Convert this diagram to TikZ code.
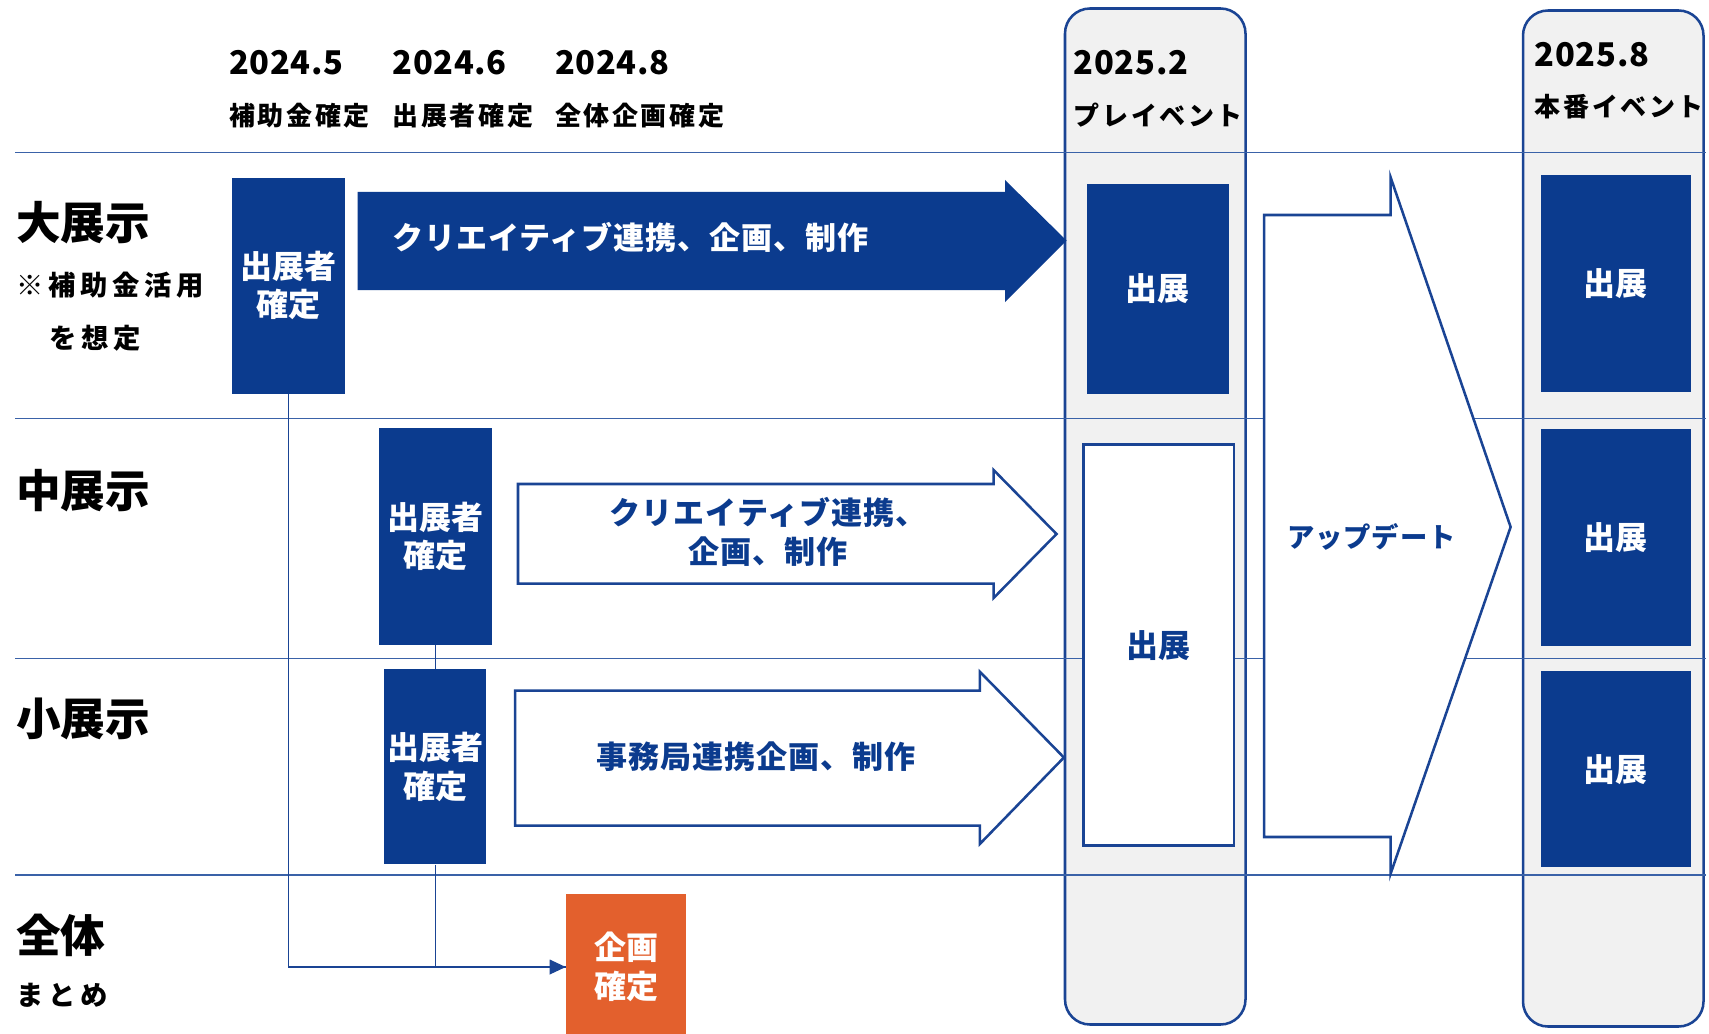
\documentclass[tikz,border=0pt]{standalone}
\usepackage{fontspec}
\setmainfont{Noto Sans CJK JP}
\usetikzlibrary{arrows.meta}
\definecolor{nb}{HTML}{0B3B8E}
\definecolor{ol}{HTML}{1A4494}
\definecolor{ln}{HTML}{3A62A8}
\definecolor{og}{HTML}{E3602D}
\definecolor{gy}{HTML}{F1F1F1}
\newcommand\mhdr{\bfseries\fontsize{19.5}{23}\selectfont\addfontfeatures{LetterSpace=10}}
\newcommand\mdate{\bfseries\fontsize{24.5}{28}\selectfont\addfontfeatures{LetterSpace=2}}
\newcommand\mrow{\bfseries\fontsize{33.5}{38}\selectfont}
\newcommand\mnote{\bfseries\fontsize{20.5}{24}\selectfont\addfontfeatures{LetterSpace=17}}
\newcommand\mboxf{\bfseries\fontsize{24}{29}\selectfont}
\newcommand\marr{\bfseries\fontsize{23.3}{29.5}\selectfont\addfontfeatures{LetterSpace=3}}
\tikzset{
  sz/.style 2 args={minimum width=#1*0.75pt, minimum height=#2*0.75pt},
  fbox/.style={fill=nb, draw=none, text=white, inner sep=0pt, align=center, font=\mboxf},
  obox/.style={fill=white, draw=ol, line width=1.9pt, text=nb, inner sep=0pt, align=center, font=\mboxf},
  lbl/.style={anchor=west, inner sep=0pt, text=black},
  conn/.style={draw=ol, line width=1pt},
  outarrow/.style={draw=ol, line width=1.9pt, fill=white, line join=miter},
  col/.style={draw=ol, fill=gy, line width=1.9pt, rounded corners=18.75pt}}
\begin{document}
\begin{tikzpicture}[x=0.75pt,y=-0.75pt]
\fill[white] (0,0) rectangle (1709,1034);
\useasboundingbox (0,0) rectangle (1709,1034);

% event columns
\draw[col] (1065,8.5) rectangle (1245.5,1024.5);
\draw[col] (1523,10.5) rectangle (1703.5,1026.5);

% row rules
\foreach \yy in {152.5,418.5,658.3,875.2}
  \draw[ln, line width=1.1pt] (15,\yy) -- (1706,\yy);

% header texts
\node[lbl, font=\mdate] (d1) at (229,63) {2024.5};
\node[lbl, font=\mdate] (d2) at (392.4,63) {2024.6};
\node[lbl, font=\mdate] (d3) at (554.8,63) {2024.8};
\node[lbl, font=\mhdr] (h1) at (229,115.5) {補助金確定};
\node[lbl, font=\mhdr] (h2) at (392.4,115.5) {出展者確定};
\node[lbl, font=\mhdr] (h3) at (554.8,115.5) {全体企画確定};
\node[lbl, font=\mdate] (d4) at (1073.6,63) {2025.2};
\node[lbl, font=\mhdr] (h4) at (1073.6,115.5) {プレイベント};
\node[lbl, font=\mdate] (d5) at (1534.6,54.5) {2025.8};
\node[lbl, font=\mhdr] (h5) at (1534.6,106.8) {本番イベント};

% row labels
\node[lbl, font=\mrow] (r1) at (16,223) {大展示};
\node[lbl, font=\mnote] (r1a) at (16,285.6) {※補助金活用};
\node[lbl, font=\mnote] (r1b) at (49,338) {を想定};
\node[lbl, font=\mrow] (r2) at (16,490.5) {中展示};
\node[lbl, font=\mrow] (r3) at (16,719) {小展示};
\node[lbl, font=\mrow] (r4) at (16,935) {全体};
\node[lbl, font=\mnote] (r4a) at (16,995) {まとめ};

% exhibitor boxes
\node[fbox, sz={112.5}{215.8}] (A) at (288.25,285.6) {出展者\\確定};
\node[fbox, sz={112.2}{216.2}] (B) at (435.4,536.4) {出展者\\確定};
\node[fbox, sz={102}{195.3}] (C) at (435.4,766.7) {出展者\\確定};
\node[fbox, fill=og, sz={120}{146}] (D) at (626,967) {企画\\確定};

% connectors
\draw[conn] (B.south) -- (C.north);
\draw[conn] (C.south) |- (D.west);
\draw[conn, -{Triangle[length=12pt,width=11pt]}] (A.south) |- (D.west);

% big filled arrow
\fill[nb] (357.5,191.8) -- (1005,191.8) -- (1005,180) -- (1066.5,240.5) -- (1005,302) -- (1005,290) -- (357.5,290) -- cycle;
\node[anchor=west, inner sep=0pt, text=white, font=\marr] (t1) at (392,237.6) {クリエイティブ連携、企画、制作};

% middle outline arrow
\draw[outarrow] (518,484) -- (993.6,484) -- (993.6,470) -- (1056.5,534) -- (993.6,598) -- (993.6,583.7) -- (518,583.7) -- cycle;
\node[inner sep=0pt, text=nb, font=\marr, align=center] (t2) at (768,532) {クリエイティブ連携、\\企画、制作};

% small outline arrow
\draw[outarrow] (515.2,690.7) -- (979.8,690.7) -- (979.8,671.7) -- (1063.9,757.5) -- (979.8,844) -- (979.8,825.7) -- (515.2,825.7) -- cycle;
\node[inner sep=0pt, text=nb, font=\marr] (t3) at (756.5,756.7) {事務局連携企画、制作};

% pre-event boxes
\node[fbox, sz={141.5}{209.6}] (E) at (1157.75,288.8) {出展};
\node[obox, sz={150.5}{401}] (F) at (1158.75,645.25) {出展};

% update arrow
\draw[outarrow] (1264,215) -- (1390.5,215) -- (1390.5,177) -- (1510.6,527) -- (1390.5,874) -- (1390.5,837) -- (1264,837) -- cycle;
\node[inner sep=0pt, text=nb, font=\bfseries\fontsize{20.5}{24}\selectfont\addfontfeatures{LetterSpace=3}] (t4) at (1371.5,537) {アップデート};

% main event boxes
\node[fbox, sz={149.5}{216.2}] (G) at (1615.75,283.4) {出展};
\node[fbox, sz={149.5}{216.3}] (H) at (1615.75,537.35) {出展};
\node[fbox, sz={149.5}{195.6}] (I) at (1615.75,769.2) {出展};
\end{tikzpicture}
\end{document}
